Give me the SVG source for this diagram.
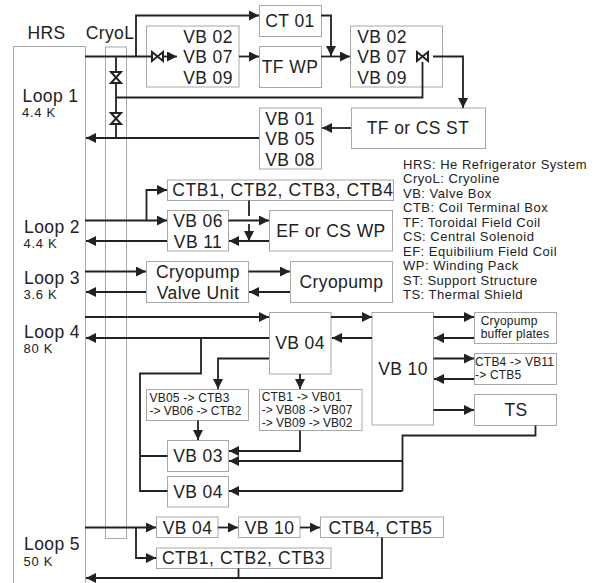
<svg xmlns="http://www.w3.org/2000/svg" width="595" height="583" viewBox="0 0 595 583">
<style>
text{font-family:"Liberation Sans",Arial,sans-serif;fill:#222}
.b{fill:#fff;stroke:#a8a8a8;stroke-width:1}
.c{fill:none;stroke:#222;stroke-width:1.8}
.v{fill:#fff;stroke:#222;stroke-width:2}
.l{font-size:17.5px;text-anchor:middle;letter-spacing:.4px}
.s{font-size:12px;letter-spacing:.2px}
.t{font-size:13px;letter-spacing:.7px}
.k{font-size:13px;letter-spacing:.5px}
.lo{font-size:17.5px;letter-spacing:.4px}
</style>
<defs>
<marker id="a" markerUnits="userSpaceOnUse" markerWidth="10" markerHeight="10" refX="10" refY="5" orient="auto"><path d="M0 0L10 5L0 10Z" fill="#222"/></marker>
</defs>
<g id="hrs"><rect class="b" x="13.5" y="46.5" width="72" height="545"/><text class="l" x="46.5" y="39">HRS</text>
<text class="lo" x="22.500" y="102">Loop 1</text><text class="t" x="22" y="117">4.4 K</text>
<text class="lo" x="24" y="233">Loop 2</text><text class="t" x="23.500" y="248">4.4 K</text>
<text class="lo" x="24" y="284">Loop 3</text><text class="t" x="23.500" y="299">3.6 K</text>
<text class="lo" x="24" y="338">Loop 4</text><text class="t" x="23.500" y="353">80 K</text>
<text class="lo" x="24" y="550">Loop 5</text><text class="t" x="23.500" y="565.500">50 K</text></g>
<g id="cryol"><rect class="b" x="105.5" y="47" width="21" height="491.5" fill-opacity="0"/><text class="l" x="110" y="39">CryoL</text></g>
<g id="ct01"><rect class="b" x="259.5" y="5.5" width="62" height="31"/><text class="l" x="290" y="27">CT 01</text></g>
<g id="vbl"><rect class="b" x="146.5" y="26" width="92.5" height="61"/><text class="l" x="208" y="42.500">VB 02</text><text class="l" x="208" y="63">VB 07</text><text class="l" x="208" y="83.500">VB 09</text></g>
<g id="tfwp"><rect class="b" x="259.5" y="46.5" width="62" height="41"/><text class="l" x="290" y="73">TF WP</text></g>
<g id="vbr"><rect class="b" x="350.500" y="26" width="92" height="61"/><text class="l" x="382" y="42.500">VB 02</text><text class="l" x="382" y="63">VB 07</text><text class="l" x="382" y="83.500">VB 09</text></g>
<g id="tfst"><rect class="b" x="351.500" y="108" width="134" height="40.500"/><text class="l" x="418" y="134">TF or CS ST</text></g>
<g id="vb01"><rect class="b" x="259.5" y="108" width="62" height="61"/><text class="l" x="290" y="124.500">VB 01</text><text class="l" x="290" y="145">VB 05</text><text class="l" x="290" y="165.500">VB 08</text></g>
<g id="ctb14"><rect class="b" x="167.500" y="180" width="226" height="20.500"/><text class="l" x="283" y="195.500" style="letter-spacing:.6px">CTB1, CTB2, CTB3, CTB4</text></g>
<g id="vb0611"><rect class="b" x="167.500" y="210.500" width="61" height="40.500"/><text class="l" x="198" y="227">VB 06</text><text class="l" x="198" y="247.500">VB 11</text></g>
<g id="efwp"><rect class="b" x="269.500" y="210.500" width="123" height="40.500"/><text class="l" x="331" y="236.500">EF or CS WP</text></g>
<g id="cvu"><rect class="b" x="146.500" y="261.500" width="102" height="41"/><text class="l" x="198" y="278">Cryopump</text><text class="l" x="198" y="298.500">Valve Unit</text></g>
<g id="cp"><rect class="b" x="290.500" y="261.500" width="102" height="41"/><text class="l" x="341.500" y="288">Cryopump</text></g>
<g id="legend"><text class="k" x="403" y="168.500">HRS: He Refrigerator System</text><text class="k" x="403" y="183">CryoL: Cryoline</text><text class="k" x="403" y="197.500">VB: Valve Box</text><text class="k" x="403" y="212">CTB: Coil Terminal Box</text><text class="k" x="403" y="226.500">TF: Toroidal Field Coil</text><text class="k" x="403" y="241">CS: Central Solenoid</text><text class="k" x="403" y="255.500">EF: Equibilium Field Coil</text><text class="k" x="403" y="270">WP: Winding Pack</text><text class="k" x="403" y="284.500">ST: Support Structure</text><text class="k" x="403" y="299">TS: Thermal Shield</text></g>
<g id="vb04a"><rect class="b" x="269.500" y="312.500" width="61.500" height="61.500"/><text class="l" x="300" y="349">VB 04</text></g>
<g id="vb10a"><rect class="b" x="372" y="312.500" width="61.500" height="112.500"/><text class="l" x="403" y="375">VB 10</text></g>
<g id="cbp"><rect class="b" x="474.500" y="312.500" width="82" height="31"/><text class="s" x="480.700" y="325">Cryopump</text><text class="s" x="480.700" y="338">buffer plates</text></g>
<g id="ctb4v"><rect class="b" x="474.500" y="353.500" width="82" height="31"/><text class="s" x="475" y="366">CTB4 -&gt; VB11</text><text class="s" x="475" y="379.300">-&gt; CTB5</text></g>
<g id="ts"><rect class="b" x="474.500" y="394.500" width="82" height="31"/><text class="l" x="516" y="416">TS</text></g>
<g id="vb05"><rect class="b" x="146.500" y="389.500" width="102" height="31"/><text class="s" x="149.500" y="402.300">VB05 -&gt; CTB3</text><text class="s" x="149.500" y="415" style="letter-spacing:0">-&gt; VB06 -&gt; CTB2</text></g>
<g id="ctb1v"><rect class="b" x="259.500" y="389.500" width="102.500" height="41"/><text class="s" x="261.700" y="401">CTB1 -&gt; VB01</text><text class="s" x="261.700" y="413.500" style="letter-spacing:0">-&gt; VB08 -&gt; VB07</text><text class="s" x="261.700" y="426.700" style="letter-spacing:0">-&gt; VB09 -&gt; VB02</text></g>
<g id="vb03"><rect class="b" x="167.500" y="440.500" width="61" height="31"/><text class="l" x="198" y="462">VB 03</text></g>
<g id="vb04b"><rect class="b" x="167.500" y="476.500" width="61" height="30.500"/><text class="l" x="198" y="498">VB 04</text></g>
<g id="vb04c"><rect class="b" x="156.500" y="517" width="61.500" height="20.500"/><text class="l" x="187.500" y="534">VB 04</text></g>
<g id="vb10c"><rect class="b" x="238.500" y="517" width="61.500" height="20.500"/><text class="l" x="269.500" y="534">VB 10</text></g>
<g id="ctb45"><rect class="b" x="320.500" y="517" width="123" height="20.500"/><text class="l" x="380.500" y="534" style="letter-spacing:.5px">CTB4, CTB5</text></g>
<g id="ctb13"><rect class="b" x="156.500" y="548" width="174.500" height="20.500"/><text class="l" x="243.500" y="564" style="letter-spacing:.6px">CTB1, CTB2, CTB3</text></g>
<g id="connectors">
<path class="c" d="M85 56.500H152" />
<path class="c" d="M136 56.500V15.500H259" marker-end="url(#a)"/>
<path class="c" d="M163 56.500H177" marker-end="url(#a)"/>
<path class="c" d="M239 56.500H259" marker-end="url(#a)"/>
<path class="c" d="M321 56.500H350" marker-end="url(#a)"/>
<path class="c" d="M321 15.500H331V56" marker-end="url(#a)"/>
<path class="c" d="M433 56.500H463V108" marker-end="url(#a)"/>
<path class="c" d="M116 97.500H422.500V62"/>
<path class="c" d="M116 56.500V138"/>
<path class="c" d="M259 138H86" marker-end="url(#a)"/>
<path class="c" d="M351 128H322" marker-end="url(#a)"/>
<path class="c" d="M85 220.500H167" marker-end="url(#a)"/>
<path class="c" d="M146.500 220.500V190H167" marker-end="url(#a)"/>
<path class="c" d="M167 241H86" marker-end="url(#a)"/>
<path class="c" d="M228.500 220.500H269" marker-end="url(#a)"/>
<path class="c" d="M269 241H229" marker-end="url(#a)"/>
<path class="c" d="M249 200.500V216M249 224V241" marker-end="url(#a)"/>
<path class="c" d="M85 271.500H146" marker-end="url(#a)"/>
<path class="c" d="M146 292H86" marker-end="url(#a)"/>
<path class="c" d="M248.500 271.500H290" marker-end="url(#a)"/>
<path class="c" d="M290 292H249" marker-end="url(#a)"/>
<path class="c" d="M85 317H269" marker-end="url(#a)"/>
<path class="c" d="M269 338H86" marker-end="url(#a)"/>
<path class="c" d="M201 338V373.500H140V491H167.500M140 456H167.500"/>
<path class="c" d="M269 358.500H218V389" marker-end="url(#a)"/>
<path class="c" d="M300 374V389" marker-end="url(#a)"/>
<path class="c" d="M331 317H372" marker-end="url(#a)"/>
<path class="c" d="M372 338H332" marker-end="url(#a)"/>
<path class="c" d="M433.500 317H474" marker-end="url(#a)"/>
<path class="c" d="M474 338H434" marker-end="url(#a)"/>
<path class="c" d="M433.500 358.500H474" marker-end="url(#a)"/>
<path class="c" d="M474 379H434" marker-end="url(#a)"/>
<path class="c" d="M433.500 410H474" marker-end="url(#a)"/>
<path class="c" d="M535.500 425.500V435.500H402.500V491"/>
<path class="c" d="M402.500 461H229" marker-end="url(#a)"/>
<path class="c" d="M402.500 491H229" marker-end="url(#a)"/>
<path class="c" d="M300 430.500V451H229" marker-end="url(#a)"/>
<path class="c" d="M198 420.500V440" marker-end="url(#a)"/>
<path class="c" d="M85 527.500H156" marker-end="url(#a)"/>
<path class="c" d="M136 527.500V558H156" marker-end="url(#a)"/>
<path class="c" d="M218 527.500H238" marker-end="url(#a)"/>
<path class="c" d="M300 527.500H320" marker-end="url(#a)"/>
<path class="c" d="M382 537.500V578H86" marker-end="url(#a)"/>
<path class="c" d="M238.500 568.500V578"/>
<path class="v" d="M152 52L163 61V52L152 61Z"/>
<path class="v" d="M417 52L428 61V52L417 61Z"/>
<path class="v" d="M111 72L121 83H111L121 72Z"/>
<path class="v" d="M111 113L121 124H111L121 113Z"/>
</g>
</svg>
